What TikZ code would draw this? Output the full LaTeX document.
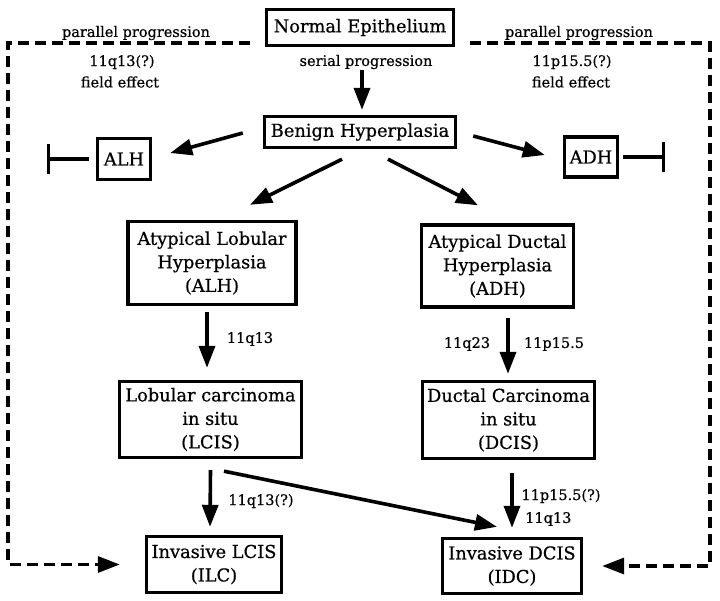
\documentclass[tikz,border=0pt]{standalone}
\usepackage{fontspec}
\setmainfont{DejaVu Serif}[FakeBold=0.6]
\usetikzlibrary{arrows.meta}
\begin{document}
\begin{tikzpicture}[x=1pt,y=-1pt,
  box/.style={draw, line width=3.4pt, inner sep=2pt, align=center, font=\fontsize{17.8}{23.5}\selectfont},
  lbl/.style={inner sep=0pt, font=\fontsize{14.5}{20}\selectfont},
  arr/.style={line width=3.6pt, -{Triangle[length=22pt,width=16pt]}},
  dconn/.style={line width=3.3pt, dash pattern=on 11pt off 6pt, -{Triangle[length=22pt,width=16pt]}},
  inh/.style={line width=3.4pt, -{Bar[width=30pt]}}
]
\useasboundingbox (0,0) rectangle (720,600);
% boxes
\node[box, minimum width=187pt, minimum height=36pt] (ne) at (360,27.5) {Normal Epithelium};
\node[box, minimum width=191pt, minimum height=31pt] (bh) at (360,132) {Benign Hyperplasia};
\node[box, minimum width=53pt, minimum height=41pt] (alhs) at (124,159) {ALH};
\node[box, minimum width=53pt, minimum height=40pt] (adhs) at (591,157) {ADH};
\node[box, minimum width=168pt, minimum height=83pt] (alh) at (212,263) {Atypical Lobular\\Hyperplasia\\(ALH)};
\node[box, minimum width=152pt, minimum height=82pt] (adh) at (497.5,266) {Atypical Ductal\\Hyperplasia\\(ADH)};
\node[box, minimum width=182pt, minimum height=76pt] (lcis) at (210.5,419.5) {Lobular carcinoma\\in situ\\(LCIS)};
\node[box, minimum width=172pt, minimum height=77pt] (dcis) at (508.5,420) {Ductal Carcinoma\\in situ\\(DCIS)};
\node[box, minimum width=135pt, minimum height=56pt] (ilc) at (214,564.5) {Invasive LCIS\\(ILC)};
\node[box, minimum width=139pt, minimum height=55pt] (idc) at (512,566) {Invasive DCIS\\(IDC)};
% labels
\node[lbl] (serial) at (366,62) {serial progression};
\node[lbl] (ppl) at (136,33) {parallel progression};
\node[lbl] (ppr) at (579,33) {parallel progression};
\node[lbl] (fl1) at (122,62) {11q13(?)};
\node[lbl] (fl2) at (120,82) {field effect};
\node[lbl] (fr1) at (572,62) {11p15.5(?)};
\node[lbl] (fr2) at (571,82) {field effect};
\node[lbl] (l1) at (250,339) {11q13};
\node[lbl] (l2) at (467,344) {11q23};
\node[lbl] (l3) at (554,344) {11p15.5};
\node[lbl] (l4) at (261,501) {11q13(?)};
\node[lbl] (l5) at (561,496) {11p15.5(?)};
\node[lbl,anchor=west] (l6) at (525,519) {11q13};
% solid arrows
\draw[arr] ([shift={(2,23)}]ne.south) -- ([shift={(2,-5)}]bh.north);
\draw[arr] ([shift={(-20,1)}]bh.west) -- ([shift={(18,-6)}]alhs.east);
\draw[arr] ([shift={(16,4)}]bh.east) -- ([shift={(-18,-2)}]adhs.west);
\draw[arr] ([shift={(-18,10)}]bh.south) -- ([shift={(38,-15)}]alh.north);
\draw[arr] ([shift={(28,10)}]bh.south) -- ([shift={(-19.5,-18)}]adh.north);
\draw[arr] ([shift={(-5,6)}]alh.south) -- ([shift={(-3.5,-12)}]lcis.north);
\draw[arr] ([shift={(10.5,9)}]adh.south) -- ([shift={(-0.5,-6)}]dcis.north);
\draw[arr] ([shift={(0,11)}]lcis.south) -- ([shift={(-4,-8)}]ilc.north);
\draw[arr] ([shift={(13.5,12)}]lcis.south) -- ([shift={(-15,-10)}]idc.north);
\draw[arr] ([shift={(3.5,13)}]dcis.south) -- ([shift={(0,-9)}]idc.north);
% inhibitors
\draw[inh] ([xshift=-7pt]alhs.west) -- ([xshift=-49pt]alhs.west);
\draw[inh] ([xshift=4pt]adhs.east) -- ([xshift=46pt]adhs.east);
% dashed parallel progression
\coordinate (lt) at (250,43);
\coordinate (ltc) at (8,43);
\coordinate (rt) at (470,43);
\coordinate (rtc) at (710,43);
\draw[dconn] (lt) -- (ltc) |- ([xshift=-25pt]ilc.west);
\draw[dconn] (rt) -- (rtc) |- ([xshift=19pt]idc.east);
\end{tikzpicture}
\end{document}
